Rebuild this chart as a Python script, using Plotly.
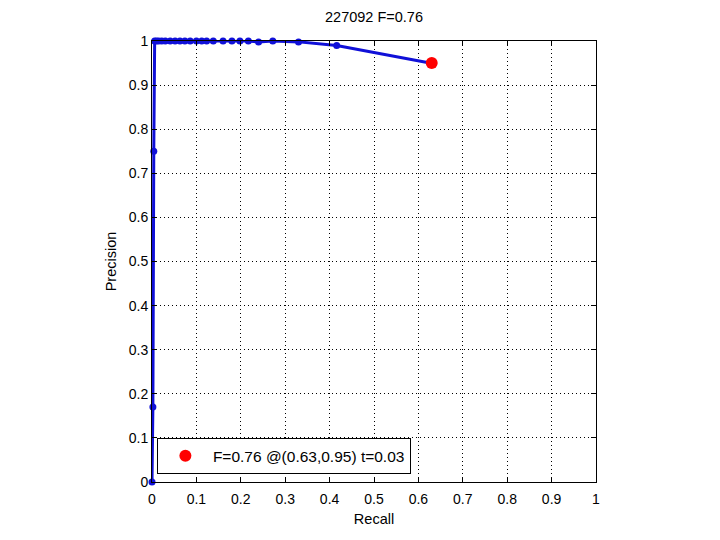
import plotly.graph_objects as go

recall = [0.0, 0.002, 0.004, 0.006, 0.010, 0.015, 0.022, 0.030,
          0.041, 0.052, 0.063, 0.074, 0.086, 0.100, 0.112, 0.123, 0.138, 0.160, 0.180,
          0.198, 0.217, 0.240, 0.272, 0.330, 0.416, 0.626]
precision = [0.0, 0.17, 0.75, 1.0, 1.0, 1.0, 1.0, 1.0,
             1.0, 1.0, 1.0, 1.0, 1.0, 1.0, 1.0, 1.0, 1.0, 1.0, 1.0,
             1.0, 1.0, 0.998, 1.0, 0.998, 0.990, 0.950]
best_recall = [0.63]
best_precision = [0.95]
legend_label = "F=0.76 @(0.63,0.95) t=0.03"
title_text = "227092 F=0.76"
ticks = [0, 0.1, 0.2, 0.3, 0.4, 0.5, 0.6, 0.7, 0.8, 0.9, 1]
tick_text = ["0", "0.1", "0.2", "0.3", "0.4", "0.5", "0.6", "0.7", "0.8", "0.9", "1"]

blue = "#1010d8"
fam = "Liberation Sans, Arial, sans-serif"
font = dict(family=fam, size=14, color="black")

fig = go.Figure()
fig.add_trace(go.Scatter(x=recall, y=precision, mode="lines+markers",
                         line=dict(color=blue, width=3),
                         marker=dict(color=blue, size=7),
                         showlegend=False, cliponaxis=False))
fig.add_trace(go.Scatter(x=best_recall, y=best_precision, mode="markers",
                         marker=dict(color="#ff0000", size=12),
                         name=legend_label, showlegend=True, cliponaxis=False))

axis_common = dict(range=[0, 1], tickvals=ticks, ticktext=tick_text,
                   showgrid=True, gridcolor="black", griddash="1px,3px", gridwidth=1,
                   showline=True, linecolor="black", linewidth=1, mirror="ticks",
                   ticks="inside", ticklen=5, tickcolor="black",
                   zeroline=False, tickfont=font)

fig.update_layout(
    width=720, height=540,
    margin=dict(l=144, r=132, t=33, b=66),
    paper_bgcolor="white", plot_bgcolor="white",
    font=font,
    title=dict(text=title_text, x=(152 + 596) / 2 / 720 - 8 / 720, xanchor="center",
               y=1 - 9 / 540, yanchor="middle", font=dict(family=fam, size=14.5, color="black")),
    xaxis=dict(title=dict(text="Recall", font=dict(family=fam, size=14.5, color="black"), standoff=8),
               ticklabelstandoff=4, **axis_common),
    yaxis=dict(title=dict(text="Precision", font=dict(family=fam, size=14.5, color="black"), standoff=8),
               **axis_common),
    legend=dict(x=0.011, y=0.018, xanchor="left", yanchor="bottom",
                bgcolor="white", bordercolor="black", borderwidth=1,
                itemwidth=45, tracegroupgap=0,
                font=dict(family=fam, size=15.5, color="black")),
    showlegend=True,
)

fig.write_html("out.html")
